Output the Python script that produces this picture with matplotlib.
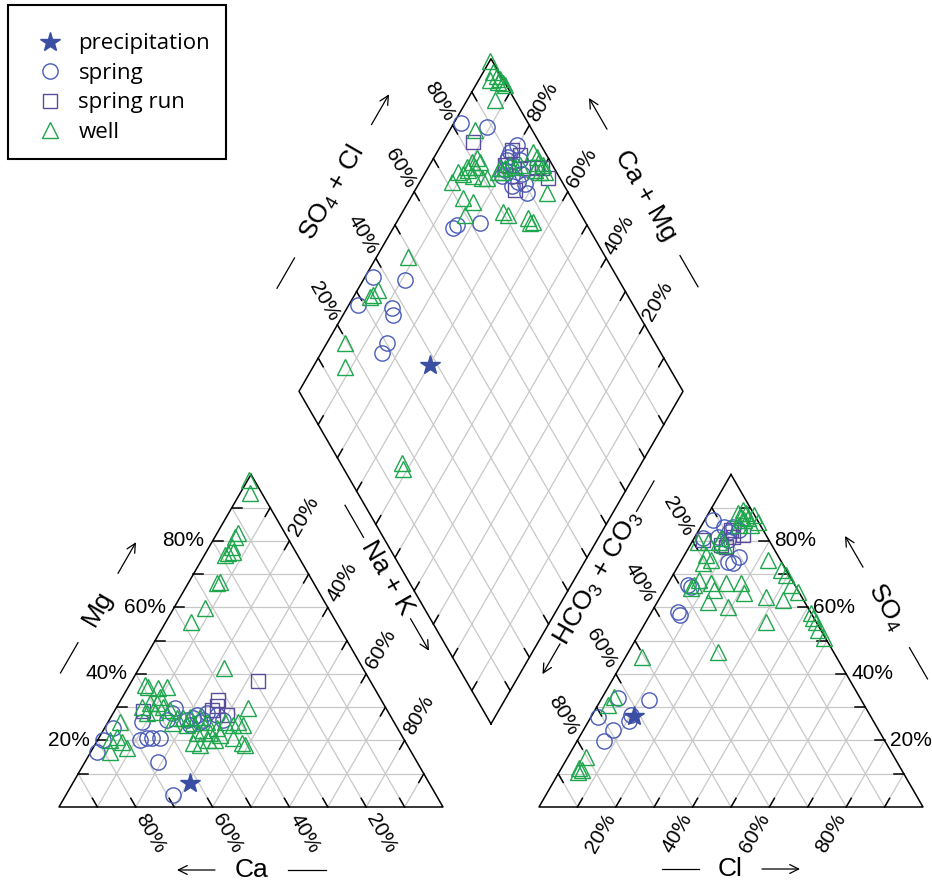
import numpy as np
import matplotlib.pyplot as plt

plt.rcParams['font.family'] = ['Liberation Sans', 'DejaVu Sans']
plt.rcParams['mathtext.default'] = 'regular'

# ---- data (percent of meq) ----
# precipitation
prec_ca, prec_mg = [62.3], [7.2]
prec_cl, prec_so4 = [11.0], [27.4]
prec_so4cl, prec_camg = [38.1], [69.9]

# spring
spring_ca = [74.0, 78.4, 81.8, 65.6, 68.8, 66.7, 65.4, 63.3, 67.4, 68.5, 54.9,
             56.5, 51.7, 50.3, 50.5, 53.6, 47.4, 45.1, 44.2, 58.8, 53.6, 49.4]
spring_mg = [23.8, 20.2, 16.5, 25.6, 20.2, 20.8, 20.8, 20.8, 13.5, 3.6, 29.8,
             28.3, 26.8, 27.7, 25.6, 26.2, 28.3, 27.7, 26.2, 26.2, 24.7, 26.2]
spring_cl = [12.5, 4.2, 1.9, 7.7, 7.0, 10.5, 10.2, 6.9, 7.8, 6.5, 5.4,
             2.1, 6.1, 8.1, 8.4, 2.2, 6.0, 9.0, 10.4, 12.4, 13.8, 14.5]
spring_so4 = [32.2, 32.8, 27.1, 23.2, 19.8, 25.9, 27.7, 58.6, 57.7, 66.2, 66.8,
              86.3, 84.2, 82.7, 84.2, 80.9, 81.2, 80.3, 83.3, 73.7, 73.4, 75.2]
spring_so4cl = [82.6, 88.8, 64.7, 66.1, 72.4, 93.9, 90.9, 89.0, 92.4, 89.8, 86.9,
                85.2, 87.8, 90.7, 88.5, 86.3, 90.0, 89.2, 89.7, 36.5, 44.4, 28.4,
                36.8, 36.0, 30.2, 27.4]
spring_camg = [98.2, 90.8, 84.5, 83.9, 78.2, 80.3, 81.1, 80.6, 77.2, 78.4, 79.7,
               79.4, 76.8, 74.5, 74.5, 75.3, 72.2, 70.4, 80.9, 97.9, 89.2, 97.6,
               88.4, 87.0, 84.4, 84.2]

# spring run
run_ca = [63.7, 42.5, 43.7, 42.4, 29.3, 45.6]
run_mg = [28.9, 32.2, 30.4, 27.7, 37.9, 29.2]
run_cl = [8.3, 9.9, 9.6, 12.2, 8.0, 2.5]
run_so4 = [83.3, 81.2, 78.2, 81.8, 78.8, 80.3]
run_so4cl = [82.8, 91.8, 93.2, 93.2, 95.8, 96.9, 96.9, 86.5, 87.7]
run_camg = [92.2, 80.8, 78.0, 74.0, 71.8, 70.3, 67.3, 74.0, 80.5]

# well
well_ca = [1.3, 3.1, 12.2, 13.6, 15.8, 17.8, 16.4, 18.9, 24.3, 25.2, 32.1, 37.8,
           36.1, 59.3, 58.8, 56.3, 53.9, 57.2, 63.4, 60.7, 58.9, 57.9, 60.7,
           63.0, 56.5, 55.9, 58.0, 54.3, 52.4, 52.5, 49.8, 54.4, 48.7, 50.9,
           53.0, 49.6, 47.0, 47.3, 55.5, 54.0, 51.1, 49.3, 44.0, 42.4, 35.9,
           40.6, 39.8, 44.3, 42.7, 42.3, 71.3, 74.4, 76.6, 73.8, 73.4, 78.4]
well_mg = [98.3, 94.4, 82.4, 81.2, 78.2, 76.4, 76.7, 75.8, 67.7, 67.4, 59.8, 55.6,
           41.8, 36.7, 36.1, 35.8, 36.1, 33.1, 30.1, 31.3, 31.3, 30.1, 28.6,
           28.3, 29.2, 26.8, 25.3, 26.8, 27.1, 25.3, 27.1, 24.7, 25.6, 23.2,
           22.3, 22.3, 23.8, 21.7, 19.2, 18.6, 20.2, 20.2, 25.6, 24.7, 29.8,
           25.6, 24.7, 20.8, 19.2, 18.6, 25.6, 21.1, 20.2, 19.5, 17.7, 16.5]
well_cl = [4.2, 3.0, 2.7, 4.7, 4.5, 4.9, 5.6,
           8.4, 9.7, 9.0, 10.9, 12.1, 7.6, 10.2, 14.1, 12.8, 9.7,
           1.6, 4.2, 7.1, 8.8, 5.6, 7.7, 6.0, 6.9, 7.6, 7.0, 6.7, 11.1, 13.0,
           15.0, 18.9, 13.2, 19.1, 21.2,
           22.5, 27.4, 29.4, 32.2, 35.1, 27.5, 32.4, 41.6, 43.0, 44.3, 48.8,
           31.3, 23.3, 46.1]
well_so4 = [45.1, 33.1, 30.7, 15.0, 11.7, 10.5, 11.1,
            89.3, 88.4, 87.2, 86.9, 87.8, 88.4, 86.3, 85.7, 84.8, 84.8,
            79.7, 79.7, 79.7, 78.8, 75.8, 74.3, 73.4, 80.9, 68.3, 66.8, 65.9,
            67.4, 65.3, 67.4, 67.4, 61.7, 60.2, 64.4,
            74.3, 71.3, 69.8, 66.8, 64.7, 63.2, 62.3, 58.3, 56.8, 55.6, 50.8,
            55.6, 46.6, 53.2]
well_so4cl = [99.4, 98.5, 99.0, 99.3, 99.5, 98.3, 99.8, 94.8, 96.5, 85.1,
              71.3, 74.4, 75.3, 77.3, 79.6, 81.5, 81.6, 79.6, 79.8, 81.1, 77.6,
              71.8, 73.8, 69.7, 77.4,
              85.9, 87.2, 89.0, 90.0, 91.7, 96.9, 97.3, 96.6, 97.6, 95.8, 97.0,
              94.8, 94.4, 80.1, 80.9, 85.7, 86.4, 85.5, 85.8, 84.7,
              48.6, 35.9, 33.8, 32.7, 19.3, 15.7, 16.0, 15.4]
well_camg = [100.0, 97.5, 95.8, 94.7, 93.3, 94.7, 92.4, 92.8, 97.1, 93.5,
             91.7, 91.6, 89.9, 89.3, 89.4, 88.7, 87.4, 88.0, 84.4, 83.1, 87.0,
             86.4, 83.2, 83.3, 89.9,
             81.3, 80.0, 79.2, 77.5, 76.5, 75.1, 73.3, 72.2, 70.6, 70.2, 68.8,
             71.8, 65.2, 73.9, 72.1, 66.5, 64.6, 65.1, 80.0, 81.1,
             91.8, 94.7, 95.2, 95.7, 95.3, 91.7, 62.4, 61.2]

ticks = [20, 40, 60, 80]

# ---- geometry ----
H = np.sqrt(3) / 2
G = 0.25          # gap between the two triangles
PX = 1 / 384      # one pixel in data units
TL = 10 * PX      # tick length
GRID = '#c8c8c8'


def cation_xy(ca, mg):
    ca = np.asarray(ca) / 100
    mg = np.asarray(mg) / 100
    return (1 - ca - mg) + mg / 2, mg * H


def anion_xy(cl, so4):
    cl = np.asarray(cl) / 100
    so4 = np.asarray(so4) / 100
    return 1 + G + cl + so4 / 2, so4 * H


def diamond_xy(so4cl, camg):
    u = np.asarray(so4cl) / 100
    v = np.asarray(camg) / 100
    return 1 + G / 2 + (u - v) / 2, G * H + (u + v) * H


def P(px, py):
    return (px - 59) * PX, (807 - py) * PX


fig = plt.figure(figsize=(9.32, 8.82), dpi=100)
ax = fig.add_axes([0, 0, 1, 1])
ax.set_xlim(-59 * PX, (932 - 59) * PX)
ax.set_ylim(-(882 - 807) * PX, 807 * PX)
ax.axis('off')


def ternary(V, tick_edges):
    # V: dict of vertices; tick_edges: component -> partner vertex of tick edge
    names = list(V)
    for f in np.arange(1, 10) / 10:
        for i in names:
            j, k = [n for n in names if n != i]
            a = f * V[i] + (1 - f) * V[j]
            b = f * V[i] + (1 - f) * V[k]
            ax.plot([a[0], b[0]], [a[1], b[1]], color=GRID, lw=0.9, zorder=1)
        for i, p in tick_edges.items():
            q = [n for n in names if n not in (i, p)][0]
            a = f * V[i] + (1 - f) * V[p]
            b = f * V[i] + (1 - f) * V[q]
            d = (b - a) / np.linalg.norm(b - a)
            ax.plot([a[0], a[0] + TL * d[0]], [a[1], a[1] + TL * d[1]],
                    color='k', lw=1.1, zorder=2)
    pts = np.array([V[n] for n in names] + [V[names[0]]])
    ax.plot(pts[:, 0], pts[:, 1], color='k', lw=1.1, zorder=2)


ternary({'mg': np.array([0.5, H]), 'ca': np.array([0.0, 0.0]),
         'na': np.array([1.0, 0.0])},
        {'mg': 'ca', 'ca': 'na', 'na': 'mg'})
ternary({'so4': np.array([1.5 + G, H]), 'cl': np.array([2 + G, 0.0]),
         'hco3': np.array([1 + G, 0.0])},
        {'so4': 'cl', 'cl': 'hco3', 'hco3': 'so4'})

# diamond
for f in np.arange(10, 100, 10):
    for xs, ys in (diamond_xy([f, f], [0, 100]), diamond_xy([0, 100], [f, f])):
        ax.plot(xs, ys, color=GRID, lw=0.9, zorder=1)
        for e in (0, 1):
            o = 1 - e
            d = np.array([xs[o] - xs[e], ys[o] - ys[e]])
            d /= np.linalg.norm(d)
            ax.plot([xs[e], xs[e] + TL * d[0]], [ys[e], ys[e] + TL * d[1]],
                    color='k', lw=1.1, zorder=2)
dx, dy = diamond_xy([0, 0, 100, 100, 0], [0, 100, 100, 0, 0])
ax.plot(dx, dy, color='k', lw=1.1, zorder=2)

# ---- tick labels ----
c60, s60 = 0.5, H


def lab(x, y, s, rot, ha, d, off):
    ax.text(x + d[0] * off * PX, y + d[1] * off * PX, s, rotation=rot,
            rotation_mode='anchor', ha=ha, va='center', fontsize=15)


for t in ticks:
    f = t / 100
    lab(f / 2, f * H, f'{t}%', 0, 'right', (-1, 0), 8)                     # Mg
    lab(1 - f, 0, f'{t}%', -60, 'left', (c60, -s60), 9)                    # Ca
    lab(0.5 + f / 2, H * (1 - f), f'{t}%', 60, 'left', (c60, s60), 8)      # Na+K
    lab(1 + G + f, 0, f'{t}%', 60, 'right', (-c60, -s60), 9)               # Cl
    lab(2 + G - f / 2, f * H, f'{t}%', 0, 'left', (1, 0), 5)               # SO4
    lab(1 + G + (1 - f) / 2, (1 - f) * H, f'{t}%', -60, 'right', (-c60, s60), 8)  # HCO3
    x, y = diamond_xy(t, 100)
    lab(x, y, f'{t}%', -60, 'right', (-c60, s60), 6)                       # SO4+Cl
    x, y = diamond_xy(100, t)
    lab(x, y, f'{t}%', 60, 'left', (c60, s60), 6)                          # Ca+Mg

# ---- axis titles with arrow and dash ----
titles = [
    ('Mg', (98, 608), 60, (0.5, -0.866), (40, 76), (-40, -75)),
    ('Ca', (252, 870), 0, (-1, 0), (37, 75), (-36, -74)),
    ('Na + K', (387, 578), -60, (0.5, 0.866), (47, 84), (-47, -84)),
    ('SO$_4$', (886, 607), -60, (-0.5, -0.866), (46, 82), (-47, -83)),
    ('Cl', (730, 869), 0, (1, 0), (32, 70), (-31, -68)),
    ('HCO$_3$ + CO$_3$', (598, 578), 60, (-0.5, 0.866), (76, 111), (-77, -112)),
    ('SO$_4$ + Cl', (332, 193), 60, (0.5, -0.866), (79, 114), (-75, -110)),
    ('Ca + Mg', (645, 195), -60, (-0.5, -0.866), (76, 112), (-70, -106)),
]
for s, (cx, cy), rot, (ux, uy), arr, dash in titles:
    ax.text(*P(cx, cy), s, rotation=rot, ha='center', va='center', fontsize=19)
    a0 = P(cx + ux * arr[0], cy + uy * arr[0])
    a1 = P(cx + ux * arr[1], cy + uy * arr[1])
    ax.annotate('', xy=a1, xytext=a0,
                arrowprops=dict(arrowstyle='->', lw=0.9, color='k',
                                mutation_scale=16, shrinkA=0, shrinkB=0))
    d0 = P(cx + ux * dash[0], cy + uy * dash[0])
    d1 = P(cx + ux * dash[1], cy + uy * dash[1])
    ax.plot([d0[0], d1[0]], [d0[1], d1[1]], color='k', lw=0.9)

# ---- samples ----
def all_xy(ca, mg, cl, so4, so4cl, camg):
    parts = [cation_xy(ca, mg), anion_xy(cl, so4), diamond_xy(so4cl, camg)]
    return (np.concatenate([p[0] for p in parts]),
            np.concatenate([p[1] for p in parts]))


kw = dict(ls='none', mfc='none', mew=1.0, zorder=3)
h_spring, = ax.plot(*all_xy(spring_ca, spring_mg, spring_cl, spring_so4,
                            spring_so4cl, spring_camg),
                    marker='o', ms=11, mec='#4a5cb8', label='spring', **kw)
h_run, = ax.plot(*all_xy(run_ca, run_mg, run_cl, run_so4, run_so4cl, run_camg),
                 marker='s', ms=10, mec='#5a4c9c', label='spring run', **kw)
h_well, = ax.plot(*all_xy(well_ca, well_mg, well_cl, well_so4,
                          well_so4cl, well_camg),
                  marker='^', ms=11.5, mec='#1ea64c', label='well', **kw)
h_prec, = ax.plot(*all_xy(prec_ca, prec_mg, prec_cl, prec_so4,
                          prec_so4cl, prec_camg),
                  ls='none', marker='*', ms=15, color='#3a4fa3', mec='#3a4fa3',
                  zorder=4, label='precipitation')

leg = ax.legend(handles=[h_prec, h_spring, h_run, h_well], loc='upper left',
                bbox_to_anchor=(8 / 932, 1 - 5 / 882), bbox_transform=fig.transFigure,
                borderaxespad=0, fancybox=False, edgecolor='black', framealpha=1,
                prop={'family': ['Open Sans', 'DejaVu Sans'], 'size': 16},
                title=' ', title_fontsize=2.5,
                borderpad=0.72, handlelength=2.3, handletextpad=0.15,
                labelspacing=0.38)
leg.get_frame().set_linewidth(1.5)

fig.savefig('out.png', dpi=100)
